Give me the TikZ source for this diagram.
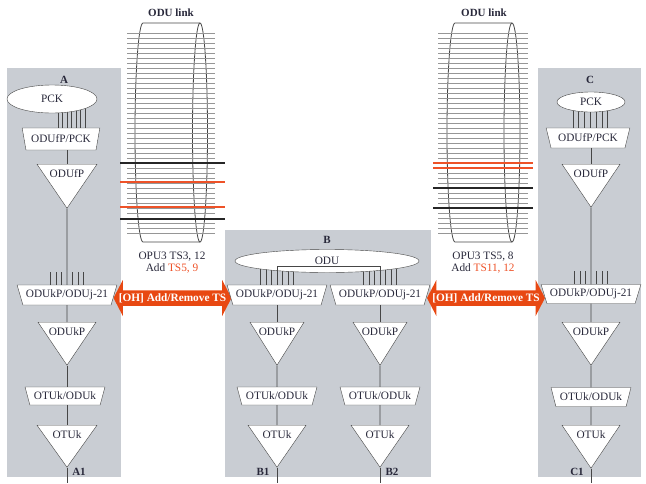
\documentclass[tikz,border=0pt]{standalone}
\usepackage{fontspec}
\setmainfont{Liberation Serif}
\usetikzlibrary{shapes.geometric, shapes.arrows, backgrounds}
\definecolor{panelgray}{RGB}{201,205,211}
\definecolor{ohred}{RGB}{232,72,18}
\definecolor{tsred}{RGB}{238,82,40}
\definecolor{inkdark}{RGB}{40,40,58}
\definecolor{wiregray}{RGB}{70,70,70}
\definecolor{slotgray}{RGB}{150,150,150}
\tikzset{
  panel/.style={fill=panelgray},
  trap/.style={trapezium,shape border rotate=180,trapezium stretches=true,draw=wiregray,fill=white,
    minimum height=20pt,trapezium angle=64,inner sep=0.5pt,font=\fontsize{11.3}{13}\selectfont,text=inkdark},
  tri/.style={isosceles triangle,isosceles triangle stretches,shape border rotate=270,draw=wiregray,fill=white,
    minimum width=58pt,minimum height=43pt,inner sep=0pt,anchor=north},
  trilabel/.style={anchor=north,yshift=-4pt,inner sep=1pt,font=\fontsize{11.3}{13}\selectfont,text=inkdark},
  pck/.style={ellipse,draw=wiregray,fill=white,inner sep=0pt,font=\fontsize{11.3}{13}\selectfont,text=inkdark},
  wire/.style={draw=wiregray,line width=0.8pt},
  tick/.style={draw=wiregray,line width=0.7pt},
  tag/.style={font=\bfseries\fontsize{11}{13}\selectfont,text=inkdark},
  note/.style={align=center,font=\fontsize{11.3}{12}\selectfont,text=inkdark},
  slot/.style={draw=slotgray,line width=0.6pt},
  tsblack/.style={draw=black!85,line width=1.3pt},
  tsorange/.style={draw=tsred,line width=1.3pt},
  oharrow/.style={double arrow,fill=ohred,text=white,font=\bfseries\fontsize{11.3}{12}\selectfont,
    minimum height=118pt,minimum width=36pt,double arrow tip angle=125,inner sep=0.5pt}
}

\begin{document}
\begin{tikzpicture}[x=1pt,y=-1pt]
\useasboundingbox (0,0) rectangle (646,483);

% ODU links
\node[tag] (linkL) at (171,13) {ODU link};
\draw[wire] (200,23) -- (143,23) arc[start angle=270,end angle=90,x radius=8,y radius=109.5] -- (200,242);
\draw[wire] (200,132.5) ellipse[x radius=7.5,y radius=109.5];
\foreach \k in {0,...,40} \draw[slot] (127,33+5*\k) -- (215,33+5*\k);
\draw[tsblack] (120,163) -- (225,163);
\draw[tsorange] (120,182) -- (225,182);
\draw[tsorange] (120,207) -- (225,207);
\draw[tsblack] (120,219) -- (225,219);
\node[note] (tsL) at (172,263) {OPU3 TS3, 12\\Add \textcolor{tsred}{TS5, 9}};

\node[tag] (linkR) at (484,13) {ODU link};
\draw[wire] (512,23) -- (455,23) arc[start angle=270,end angle=90,x radius=8,y radius=109.5] -- (512,242);
\draw[wire] (512,132.5) ellipse[x radius=8,y radius=109.5];
\foreach \k in {0,...,40} \draw[slot] (438,33+5*\k) -- (528,33+5*\k);
\draw[tsorange] (433,163) -- (533,163);
\draw[tsorange] (433,168) -- (533,168);
\draw[tsblack] (433,188) -- (533,188);
\draw[tsblack] (433,208) -- (533,208);
\node[note] (tsR) at (483,263) {OPU3 TS5, 8\\Add \textcolor{tsred}{TS11, 12}};

% overhead arrows
\node[oharrow] (ohAB) at (172.5,298) {[OH] Add/Remove TS};
\node[oharrow] (ohBC) at (486,298) {[OH] Add/Remove TS};

% node A
\node[tag] (A) at (64,80) {A};
\node[pck,minimum width=90pt,minimum height=28pt] (Apck) at (52,99) {PCK};
\node[trap,minimum width=78pt,minimum height=22pt,trapezium angle=70] (Afp) at (61,139) {ODUfP/PCK};
\node[tri,minimum width=60pt,minimum height=44pt,label={[trilabel]north:ODUfP}] (Afptri) at (67,164) {};
\node[trap,minimum width=100pt] (Akj) at (67,295) {ODUkP/ODUj-21};
\node[tri,label={[trilabel]north:ODUkP}] (Akptri) at (67,322) {};
\node[trap,minimum width=80pt,minimum height=18pt] (Aotu) at (65,396) {OTUk/ODUk};
\node[tri,minimum width=60pt,minimum height=42pt,label={[trilabel]north:OTUk}] (Aotri) at (67,425) {};
\node[tag] (A1) at (79,472) {A1};
\coordinate (Aend) at (67,483);
\draw[wire] (Afptri.north |- Afp.south) -- (Afptri.north);
\draw[wire] (Afptri.apex) -- (Akj.north);
\draw[wire] (Akj.south) -- (Akptri.north);
\draw[wire] (Akptri.apex) -- (Akptri.apex |- Aotu.north);
\draw[wire] (Aotri.north |- Aotu.south) -- (Aotri.north);
\draw[wire] (Aotri.apex) -- (Aend);

% node B
\node[tag] (B) at (327,240) {B};
\node[pck,minimum width=184pt,minimum height=23pt] (Bodu) at (327,261) {ODU};
\node[trap,minimum width=100pt] (Bkj1) at (277,295) {ODUkP/ODUj-21};
\node[trap,minimum width=100pt] (Bkj2) at (380,295) {ODUkP/ODUj-21};
\draw[wire] (Bkj1.north) -- ++(0,-18) -| (Bkj2.north);
\foreach \col in {1,2}{
  \node[tri,minimum width=54pt,label={[trilabel]north:ODUkP}] (Bkptri\col) at (Bkj\col.south |- 0,322) {};
  \node[trap,minimum width=80pt,minimum height=18pt] (Botu\col) at (Bkj\col.south |- 0,396) {OTUk/ODUk};
  \node[tri,minimum width=58pt,minimum height=42pt,label={[trilabel]north:OTUk}] (Botri\col) at (Bkj\col.south |- 0,425) {};
  \coordinate (Bend\col) at (Bkj\col.south |- 0,483);
  \draw[wire] (Bkj\col.south) -- (Bkptri\col.north);
  \draw[wire] (Bkptri\col.apex) -- (Botu\col.north);
  \draw[wire] (Botu\col.south) -- (Botri\col.north);
  \draw[wire] (Botri\col.apex) -- (Bend\col);
}
\node[tag] (B1) at (263,472) {B1};
\node[tag] (B2) at (392,472) {B2};

% node C
\node[tag] (C) at (590,80) {C};
\node[pck,minimum width=68pt,minimum height=20pt] (Cpck) at (591,102) {PCK};
\node[trap,minimum width=84pt,minimum height=20pt,trapezium angle=66] (Cfp) at (588,138) {ODUfP/PCK};
\node[tri,label={[trilabel]north:ODUfP}] (Cfptri) at (591,164) {};
\node[trap,minimum width=100pt,minimum height=19pt] (Ckj) at (591,294) {ODUkP/ODUj-21};
\node[tri,label={[trilabel]north:ODUkP}] (Ckptri) at (591,322) {};
\node[trap,minimum width=80pt,minimum height=19pt] (Cotu) at (591,397) {OTUk/ODUk};
\node[tri,label={[trilabel]north:OTUk}] (Cotri) at (591,425) {};
\node[tag] (C1) at (577,472) {C1};
\coordinate (Cend) at (591,483);
\draw[wire] (Cfptri.north |- Cfp.south) -- (Cfptri.north);
\draw[wire] (Cfptri.apex) -- (Ckj.north);
\draw[wire] (Ckj.south) -- (Ckptri.north);
\draw[wire] (Ckptri.apex) -- (Cotu.north);
\draw[wire] (Cotu.south) -- (Cotri.north);
\draw[wire] (Cotri.apex) -- (Cend);

\begin{scope}[on background layer]
  \fill[panel] (7,68) rectangle (121,477);
  \fill[panel] (225,230) rectangle (431,477);
  \fill[panel] (538,68) rectangle (641,477);
  \foreach \dx in {-3,1.5,...,24} \draw[tick] ([xshift=\dx pt]Afp.north) -- ++(0,-25);
  \foreach \dx in {-15,-9.2,...,20} \draw[tick] ([xshift=\dx pt]Cfp.north) -- ++(0,-22);
  \foreach \dx in {-16.5,-11,-5.5,5.5,11,16.5}{
    \draw[tick] ([xshift=\dx pt]Akj.north) -- ++(0,-13);
    \draw[tick] ([xshift=\dx pt]Ckj.north) -- ++(0,-13);
  }
  \foreach \dx in {-16.5,-11,...,17}{
    \draw[tick] ([xshift=\dx pt]Bkj1.north) -- ++(0,-23);
    \draw[tick] ([xshift=\dx pt]Bkj2.north) -- ++(0,-23);
  }
\end{scope}
\end{tikzpicture}
\end{document}
